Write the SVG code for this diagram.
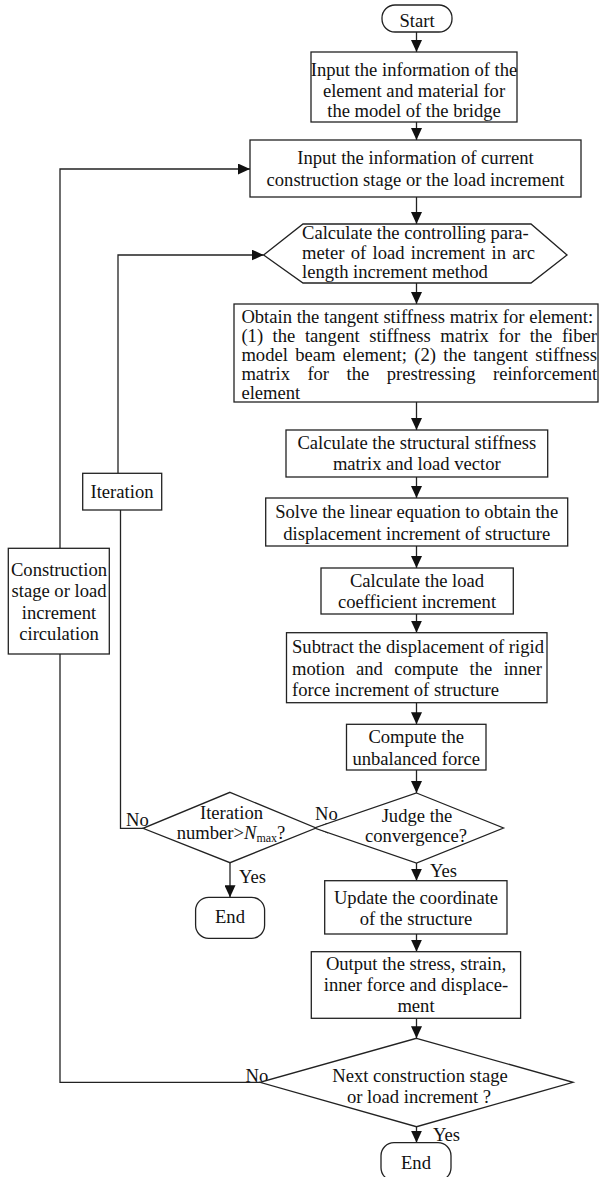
<svg xmlns="http://www.w3.org/2000/svg" width="599" height="1177" viewBox="0 0 599 1177">
<defs>
<marker id="ah" markerUnits="userSpaceOnUse" markerWidth="12" markerHeight="11" viewBox="0 0 12 11" refX="12" refY="5.5" orient="auto">
<path d="M0,0 L12,5.5 L0,11 z" fill="#111"/>
</marker>
<style>
.s{fill:#fff;stroke:#222;stroke-width:1.3}
.c{fill:none;stroke:#222;stroke-width:1.3}
.a{fill:none;stroke:#222;stroke-width:1.3;marker-end:url(#ah)}
text{font-family:"Liberation Serif","Times New Roman",serif;font-size:18.6px;fill:#111}
.m{text-anchor:middle}
</style>
</defs>
<rect width="599" height="1177" fill="#fff"/>

<g id="connectors">
<path class="a" d="M416.5 32 V52"/>
<path class="a" d="M416.5 122 V140"/>
<path class="a" d="M416.5 197 V224"/>
<path class="a" d="M416.5 283 V304"/>
<path class="a" d="M416.5 402 V430"/>
<path class="a" d="M416.5 477 V498"/>
<path class="a" d="M416.5 546 V568"/>
<path class="a" d="M416.5 614 V632.7"/>
<path class="a" d="M416.5 703 V724.3"/>
<path class="a" d="M416.5 770 V793"/>
<path class="a" d="M328 828 H316"/>
<path class="a" d="M416.5 863 V880.7"/>
<path class="a" d="M230 863 V897.3"/>
<path class="c" d="M143 828.3 H120.5 V510"/>
<path class="a" d="M118 473.3 V255 H263.6"/>
<path class="a" d="M416.5 934 V951.7"/>
<path class="a" d="M416.5 1018.3 V1038.3"/>
<path class="a" d="M416.5 1126.7 V1142.7"/>
<path class="c" d="M260 1082.3 H60 V654"/>
<path class="a" d="M60 548.3 V169 H250"/>
<text x="315" y="820">No</text>
<text x="126" y="826">No</text>
<text x="239" y="883.3">Yes</text>
<text x="430" y="876.5">Yes</text>
<text x="245.5" y="1081.5">No</text>
<text x="433" y="1141">Yes</text>
</g>

<g id="start">
<rect class="s" x="382" y="5" width="70" height="27" rx="13" ry="13"/>
<text class="m" x="417" y="26.5">Start</text>
</g>

<g id="input-model">
<rect class="s" x="311" y="52" width="206" height="70"/>
<text class="m" x="414" y="75.5">Input the information of the</text>
<text class="m" x="414" y="96.5">element and material for</text>
<text class="m" x="414" y="117">the model of the bridge</text>
</g>

<g id="input-stage">
<rect class="s" x="250" y="140" width="331" height="57"/>
<text class="m" x="415.5" y="164">Input the information of current</text>
<text class="m" x="415.5" y="185.5">construction stage or the load increment</text>
</g>

<g id="arc-length">
<polygon class="s" points="263.6,255 303,224 531,224 567,255 531,283 303,283"/>
<text x="302" y="239.3">Calculate the controlling para-</text>
<text x="302" y="259.3" word-spacing="1.7">meter of load increment in arc</text>
<text x="302" y="278.3">length increment method</text>
</g>

<g id="tangent-stiffness">
<rect class="s" x="234" y="304" width="364" height="98"/>
<text x="241.4" y="322.7">Obtain the tangent stiffness matrix for element:</text>
<text x="241.4" y="341.8" word-spacing="4.9">(1) the tangent stiffness matrix for the fiber</text>
<text x="241.4" y="360.9" word-spacing="2.7">model beam element; (2) the tangent stiffness</text>
<text x="241.4" y="380" word-spacing="12.8">matrix for the prestressing reinforcement</text>
<text x="241.4" y="399.1">element</text>
</g>

<g id="structural-stiffness">
<rect class="s" x="286" y="430" width="261.7" height="47"/>
<text class="m" x="416.8" y="448.5">Calculate the structural stiffness</text>
<text class="m" x="416.8" y="470">matrix and load vector</text>
</g>

<g id="solve">
<rect class="s" x="265.7" y="498" width="302" height="48"/>
<text class="m" x="416.7" y="518.3">Solve the linear equation to obtain the</text>
<text class="m" x="416.7" y="540">displacement increment of structure</text>
</g>

<g id="load-coefficient">
<rect class="s" x="321" y="568" width="192.3" height="46"/>
<text class="m" x="417" y="586.7">Calculate the load</text>
<text class="m" x="417" y="607.7">coefficient increment</text>
</g>

<g id="subtract">
<rect class="s" x="286.5" y="632.7" width="260.5" height="70"/>
<text x="292" y="653.3">Subtract the displacement of rigid</text>
<text x="292" y="675" word-spacing="6.7">motion and compute the inner</text>
<text x="292" y="696">force increment of structure</text>
</g>

<g id="unbalanced">
<rect class="s" x="346.5" y="724.3" width="139.5" height="45.7"/>
<text class="m" x="416.2" y="742.7">Compute the</text>
<text class="m" x="416.2" y="765">unbalanced force</text>
</g>

<g id="judge">
<polygon class="s" points="416.5,793 503.5,828 416.5,863 314.5,828"/>
<text class="m" x="417" y="822">Judge the</text>
<text class="m" x="416" y="842">convergence?</text>
</g>

<g id="iteration-check">
<polygon class="s" points="230,792.3 316,828 230,862.7 143,828.3"/>
<text class="m" x="231.5" y="819.3">Iteration</text>
<text class="m" x="231" y="839.3">number&gt;<tspan font-style="italic">N</tspan><tspan font-size="12" dy="3">max</tspan><tspan dy="-3">?</tspan></text>
</g>

<g id="end-iteration">
<rect class="s" x="195.6" y="897.3" width="69" height="41" rx="13" ry="13"/>
<text class="m" x="230" y="923.3">End</text>
</g>

<g id="update">
<rect class="s" x="324.7" y="880.7" width="182.3" height="53.3"/>
<text class="m" x="416" y="904.3">Update the coordinate</text>
<text class="m" x="416" y="925">of the structure</text>
</g>

<g id="output">
<rect class="s" x="311.3" y="951.7" width="209.3" height="66.6"/>
<text class="m" x="416" y="970">Output the stress, strain,</text>
<text class="m" x="416" y="990.5">inner force and displace-</text>
<text class="m" x="416" y="1012">ment</text>
</g>

<g id="next-stage">
<polygon class="s" points="416.5,1038.3 573,1082.3 416.5,1126.7 260,1082.3"/>
<text class="m" x="420" y="1081.7">Next construction stage</text>
<text class="m" x="419" y="1102.7">or load increment ?</text>
</g>

<g id="end-final">
<rect class="s" x="381" y="1142.7" width="70" height="38" rx="13" ry="13"/>
<text class="m" x="416" y="1168.7">End</text>
</g>

<g id="iteration-label">
<rect class="s" x="82.7" y="473.3" width="79" height="36.7"/>
<text class="m" x="122" y="498.3">Iteration</text>
</g>

<g id="construction-label">
<rect class="s" x="8.3" y="548.3" width="101" height="105.7"/>
<text class="m" x="59" y="575.7">Construction</text>
<text class="m" x="59" y="597.3">stage or load</text>
<text class="m" x="59" y="618.5">increment</text>
<text class="m" x="59" y="640">circulation</text>
</g>
</svg>
